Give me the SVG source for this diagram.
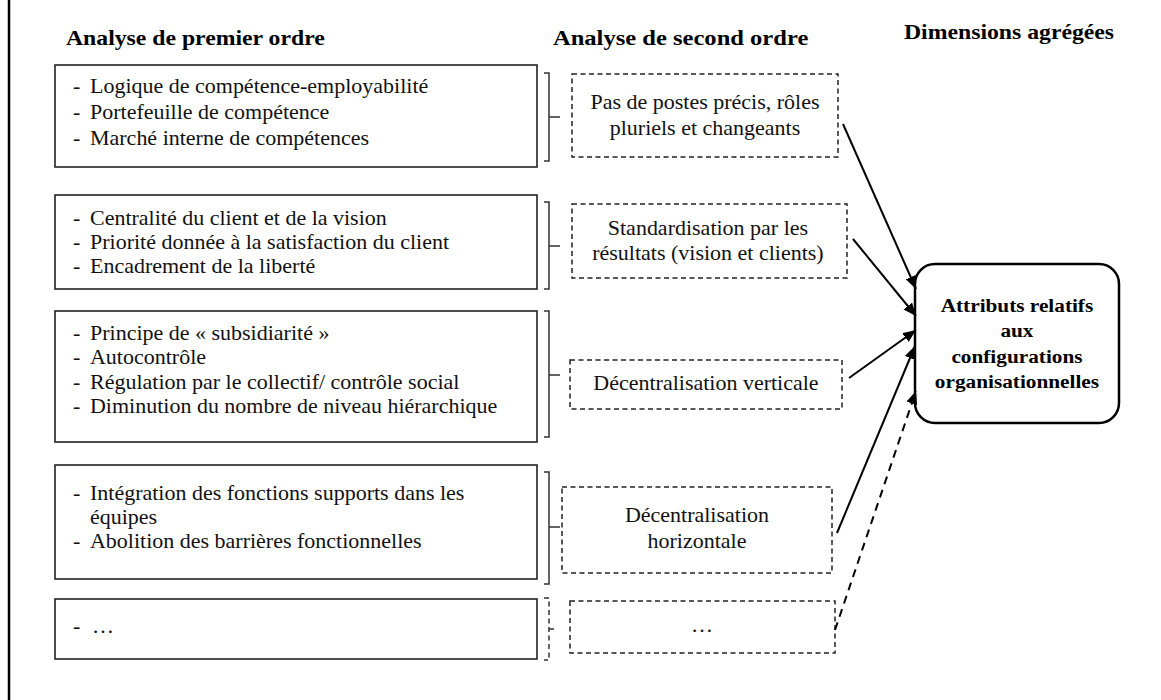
<svg xmlns="http://www.w3.org/2000/svg" width="1161" height="700" viewBox="0 0 1161 700">
<defs>
<marker id="ah" markerUnits="userSpaceOnUse" markerWidth="14" markerHeight="12" refX="13" refY="5.5" orient="auto" viewBox="0 0 14 12"><path d="M0,0 L13,5.5 L0,11 z" fill="#000"/></marker>
<style>
.t{font-family:"Liberation Serif","Times New Roman",serif;font-size:20px;fill:#111}
.c{text-anchor:middle}
.h{font-family:"Liberation Serif","Times New Roman",serif;font-size:21px;font-weight:bold;fill:#000}
.b{font-family:"Liberation Serif","Times New Roman",serif;font-size:19px;font-weight:bold;fill:#000;text-anchor:middle}
.box{fill:#fff;stroke:#222;stroke-width:1.6}
.dbox{fill:none;stroke:#222;stroke-width:1.5;stroke-dasharray:5 3.5}
.br{fill:none;stroke:#333;stroke-width:1.5}
.arr{stroke:#000;stroke-width:2;fill:none;marker-end:url(#ah)}
</style>
</defs>
<rect width="1161" height="700" fill="#fff"/>
<line x1="9" y1="0" x2="9" y2="700" stroke="#000" stroke-width="2.5"/>

<g id="headers">
<g transform="scale(1.13 1)">
<text class="h" x="58.4" y="45">Analyse de premier ordre</text>
<text class="h" x="800" y="39">Dimensions agrégées</text>
</g>
<g transform="scale(1.17 1)">
<text class="h" x="472.6" y="45">Analyse de second ordre</text>
</g>
</g>

<g id="box1">
<rect class="box" x="55" y="65" width="482" height="102"/>
<g transform="scale(1.1 1)">
<text class="t" x="66.4" y="93">-</text><text class="t" x="81.8" y="93">Logique de compétence-employabilité</text>
<text class="t" x="66.4" y="119">-</text><text class="t" x="81.8" y="119">Portefeuille de compétence</text>
<text class="t" x="66.4" y="145">-</text><text class="t" x="81.8" y="145">Marché interne de compétences</text>
</g>
</g>

<g id="box2">
<rect class="box" x="55" y="195" width="482" height="94"/>
<g transform="scale(1.1 1)">
<text class="t" x="66.4" y="225">-</text><text class="t" x="81.8" y="225">Centralité du client et de la vision</text>
<text class="t" x="66.4" y="249">-</text><text class="t" x="81.8" y="249">Priorité donnée à la satisfaction du client</text>
<text class="t" x="66.4" y="273">-</text><text class="t" x="81.8" y="273">Encadrement de la liberté</text>
</g>
</g>

<g id="box3">
<rect class="box" x="55" y="311" width="482" height="131"/>
<g transform="scale(1.1 1)">
<text class="t" x="66.4" y="340">-</text><text class="t" x="81.8" y="340">Principe de « subsidiarité »</text>
<text class="t" x="66.4" y="364">-</text><text class="t" x="81.8" y="364">Autocontrôle</text>
<text class="t" x="66.4" y="389">-</text><text class="t" x="81.8" y="389">Régulation par le collectif/ contrôle social</text>
<text class="t" x="66.4" y="413">-</text><text class="t" x="81.8" y="413">Diminution du nombre de niveau hiérarchique</text>
</g>
</g>

<g id="box4">
<rect class="box" x="55" y="465" width="482" height="114"/>
<g transform="scale(1.1 1)">
<text class="t" x="66.4" y="500">-</text><text class="t" x="81.8" y="500">Intégration des fonctions supports dans les</text>
<text class="t" x="81.8" y="524">équipes</text>
<text class="t" x="66.4" y="548">-</text><text class="t" x="81.8" y="548">Abolition des barrières fonctionnelles</text>
</g>
</g>

<g id="box5">
<rect class="box" x="55" y="599" width="482" height="60"/>
<g transform="scale(1.1 1)">
<text class="t" x="66.4" y="633">-</text><text class="t" x="83.6" y="633">…</text>
</g>
</g>

<g id="brackets">
<path class="br" d="M544,73 H549 V161 H544 M549,117 H560"/>
<path class="br" d="M544,202 H549 V289 H544 M549,246 H560"/>
<path class="br" d="M544,311 H549 V437 H544 M549,375 H560"/>
<path class="br" d="M544,472 H549 V584 H544 M549,527 H560"/>
<path class="br" d="M544,598 H549 V660 H544 M549,629 H555" stroke-dasharray="5 3.5"/>
</g>

<g id="d1">
<rect class="dbox" x="572" y="74" width="266" height="83"/>
<g transform="scale(1.1 1)">
<text class="t c" x="640.9" y="109">Pas de postes précis, rôles</text>
<text class="t c" x="640.9" y="135">pluriels et changeants</text>
</g>
</g>

<g id="d2">
<rect class="dbox" x="572" y="204" width="275" height="74"/>
<g transform="scale(1.1 1)">
<text class="t c" x="643.6" y="235">Standardisation par les</text>
<text class="t c" x="643.6" y="260">résultats (vision et clients)</text>
</g>
</g>

<g id="d3">
<rect class="dbox" x="570" y="360" width="272" height="49"/>
<g transform="scale(1.1 1)">
<text class="t c" x="641.8" y="390">Décentralisation verticale</text>
</g>
</g>

<g id="d4">
<rect class="dbox" x="562" y="487" width="270" height="86"/>
<g transform="scale(1.1 1)">
<text class="t c" x="633.6" y="522">Décentralisation</text>
<text class="t c" x="633.6" y="548">horizontale</text>
</g>
</g>

<g id="d5">
<rect class="dbox" x="570" y="601" width="265" height="52"/>
<g transform="scale(1.1 1)">
<text class="t c" x="638.2" y="632">…</text>
</g>
</g>

<g id="target">
<rect x="915" y="264" width="204" height="159" rx="20" ry="20" fill="#fff" stroke="#000" stroke-width="2.5"/>
<g transform="scale(1.12 1)">
<text class="b" x="908" y="312">Attributs relatifs</text>
<text class="b" x="908" y="337">aux</text>
<text class="b" x="908" y="363">configurations</text>
<text class="b" x="908" y="388">organisationnelles</text>
</g>
</g>

<g id="connectors">
<line class="arr" x1="843" y1="124" x2="916" y2="289"/>
<line class="arr" x1="853" y1="239" x2="916" y2="316"/>
<line class="arr" x1="849" y1="378" x2="916" y2="330"/>
<line class="arr" x1="837" y1="533" x2="915" y2="346"/>
<line class="arr" x1="835" y1="630" x2="916" y2="391" stroke-dasharray="8 6"/>
</g>
</svg>
